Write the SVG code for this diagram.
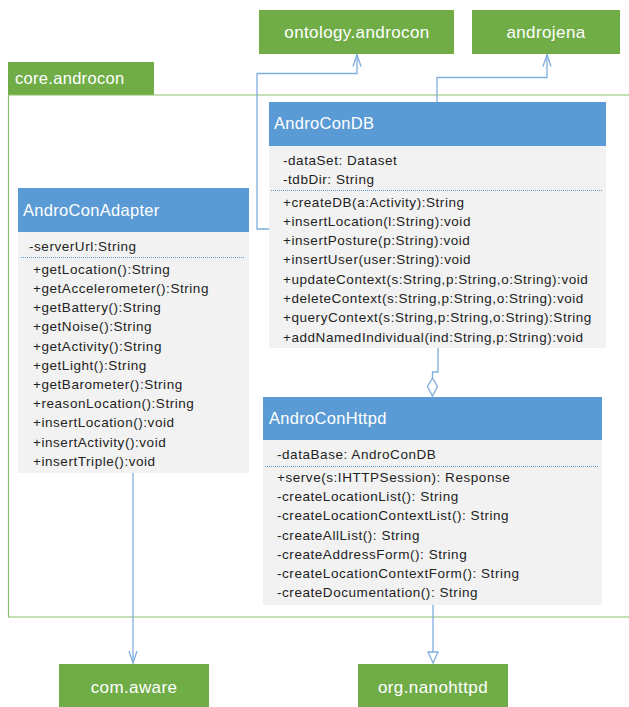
<svg xmlns="http://www.w3.org/2000/svg" width="629" height="707" viewBox="0 0 629 707">
<style>
.pkg{fill:#70AD47}
.pkgt{font-family:"Liberation Sans",Arial,sans-serif;font-size:17px;letter-spacing:0.4px;fill:#fff;text-anchor:middle}
.hdr{fill:#5B9BD5}
.body{fill:#F2F2F2}
.title{font-family:"Liberation Sans",Arial,sans-serif;font-size:16.5px;letter-spacing:0.3px;fill:#fff}
.row{font-family:"Liberation Sans",Arial,sans-serif;font-size:13.5px;letter-spacing:0.55px;fill:#222}
.dot{stroke:#5B9BD5;stroke-width:1;stroke-dasharray:1 1;fill:none}
.con{stroke:#7FAEDD;stroke-width:1.3;fill:none}
</style>
<defs>
<marker id="open" viewBox="0 0 14 10" refX="13" refY="5" markerWidth="14" markerHeight="10" markerUnits="userSpaceOnUse" orient="auto">
<path d="M1,1 L13,5 L1,9" fill="none" stroke="#7FAEDD" stroke-width="1.3"/>
</marker>
</defs>
<rect width="629" height="707" fill="#fff"/>

<g id="core.androcon">
<rect class="pkg" x="8" y="62" width="146" height="33"/>
<text x="15" y="84" class="title" font-size="18" letter-spacing="0.5">core.androcon</text>
<path d="M8.5,95 H629 M8.5,95 V617 H629" stroke="#8CC06A" stroke-width="1.2" fill="none"/>
</g>

<g id="ontology.androcon">
<rect class="pkg" x="259" y="10" width="195" height="44"/>
<text x="357" y="38" class="pkgt">ontology.androcon</text>
</g>
<g id="androjena">
<rect class="pkg" x="472" y="10" width="148" height="44"/>
<text x="546" y="38" class="pkgt">androjena</text>
</g>
<g id="com.aware">
<rect class="pkg" x="59" y="664" width="150" height="43"/>
<text x="134" y="693" class="pkgt">com.aware</text>
</g>
<g id="org.nanohttpd">
<rect class="pkg" x="358" y="664" width="150" height="43"/>
<text x="433" y="693" class="pkgt">org.nanohttpd</text>
</g>

<g id="connectors">
<path class="con" d="M269,229 H257 V73.5 H357 V54.5" marker-end="url(#open)"/>
<path class="con" d="M437,102 V77.5 H547 V54.5" marker-end="url(#open)"/>
<path class="con" d="M133,473 V663" marker-end="url(#open)"/>
<path class="con" d="M433,605 V652"/>
<path d="M433,663 L428,652 H438 Z" fill="#fff" stroke="#7FAEDD" stroke-width="1.3"/>
<path class="con" d="M438,348 V372 H432.5 V378"/>
<path d="M432.5,378 L437.5,386.5 L432.5,396 L427.5,386.5 Z" fill="#fff" stroke="#7FAEDD" stroke-width="1.3"/>
</g>

<g id="AndroConDB">
<rect class="hdr" x="269" y="102" width="337" height="44"/>
<rect class="body" x="269" y="146" width="337" height="202"/>
<text x="274" y="129" class="title">AndroConDB</text>
<text class="row" x="283" y="164.5">-dataSet: Dataset</text>
<text class="row" x="283" y="183.5">-tdbDir: String</text>
<line class="dot" x1="271" y1="190.5" x2="603" y2="190.5"/>
<text class="row" x="283" y="206.5">+createDB(a:Activity):String</text>
<text class="row" x="283" y="225.5">+insertLocation(l:String):void</text>
<text class="row" x="283" y="244.5">+insertPosture(p:String):void</text>
<text class="row" x="283" y="264">+insertUser(user:String):void</text>
<text class="row" x="283" y="283.5">+updateContext(s:String,p:String,o:String):void</text>
<text class="row" x="283" y="302.5">+deleteContext(s:String,p:String,o:String):void</text>
<text class="row" x="283" y="322">+queryContext(s:String,p:String,o:String):String</text>
<text class="row" x="283" y="341.5">+addNamedIndividual(ind:String,p:String):void</text>
</g>

<g id="AndroConAdapter">
<rect class="hdr" x="18" y="188" width="231" height="44"/>
<rect class="body" x="18" y="232" width="231" height="241"/>
<text x="23" y="216" class="title" font-size="17">AndroConAdapter</text>
<text class="row" x="29" y="250.5">-serverUrl:String</text>
<line class="dot" x1="21" y1="257.5" x2="245" y2="257.5"/>
<text class="row" x="33" y="273.5">+getLocation():String</text>
<text class="row" x="33" y="292.5">+getAccelerometer():String</text>
<text class="row" x="33" y="312">+getBattery():String</text>
<text class="row" x="33" y="331">+getNoise():String</text>
<text class="row" x="33" y="350.5">+getActivity():String</text>
<text class="row" x="33" y="369.5">+getLight():String</text>
<text class="row" x="33" y="388.5">+getBarometer():String</text>
<text class="row" x="33" y="408">+reasonLocation():String</text>
<text class="row" x="33" y="427">+insertLocation():void</text>
<text class="row" x="33" y="446.5">+insertActivity():void</text>
<text class="row" x="33" y="465.5">+insertTriple():void</text>
</g>

<g id="AndroConHttpd">
<rect class="hdr" x="263" y="397" width="339" height="43"/>
<rect class="body" x="263" y="440" width="339" height="165"/>
<text x="269" y="424" class="title">AndroConHttpd</text>
<text class="row" x="277" y="458.5">-dataBase: AndroConDB</text>
<line class="dot" x1="265" y1="466.5" x2="598" y2="466.5"/>
<text class="row" x="277" y="481.5">+serve(s:IHTTPSession): Response</text>
<text class="row" x="277" y="500.5">-createLocationList(): String</text>
<text class="row" x="277" y="520">-createLocationContextList(): String</text>
<text class="row" x="277" y="539.5">-createAllList(): String</text>
<text class="row" x="277" y="558.5">-createAddressForm(): String</text>
<text class="row" x="277" y="577.5">-createLocationContextForm(): String</text>
<text class="row" x="277" y="597">-createDocumentation(): String</text>
</g>
</svg>
